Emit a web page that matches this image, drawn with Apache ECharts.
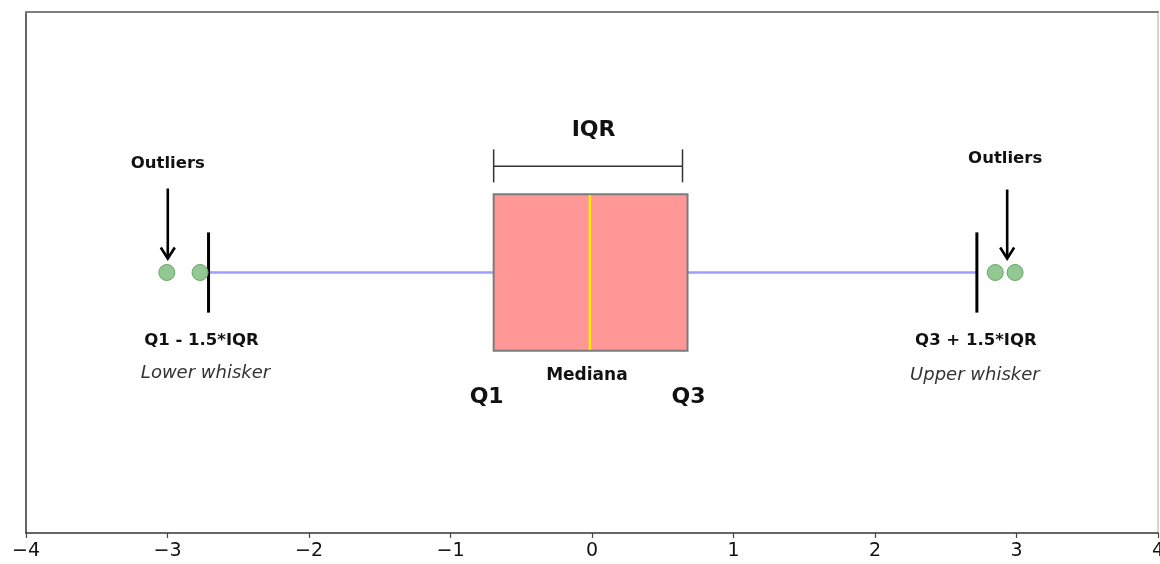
<!DOCTYPE html>
<html>
<head>
<meta charset="utf-8">
<script src="https://cdn.jsdelivr.net/npm/echarts@6/dist/echarts.min.js"></script>
<style>
html,body{margin:0;padding:0;background:#fff;}
#chart{width:1160px;height:564px;}
</style>
</head>
<body>
<div id="chart"></div>
<script>
// ---- data ----
const tickValues = [-4, -3, -2, -1, 0, 1, 2, 3, 4];
// lower whisker, Q1, median, Q3, upper whisker
const boxStats = [-2.71, -0.695, -0.015, 0.675, 2.72];
const outlierValues = [-3.005, -2.77, 2.85, 2.99];
const boxPosition = 0.5;
const labelTexts = {
  outliers: 'Outliers',
  iqr: 'IQR',
  q1: 'Q1',
  q3: 'Q3',
  median: 'Mediana',
  lowerFormula: 'Q1 - 1.5*IQR',
  upperFormula: 'Q3 + 1.5*IQR',
  lowerName: 'Lower whisker',
  upperName: 'Upper whisker'
};

// ---- chart ----
const chart = echarts.init(document.getElementById('chart'), null, {renderer: 'canvas'});
const FONT = '"DejaVu Sans", sans-serif';

function txt(x, y, text, size, opts) {
  opts = opts || {};
  return {
    type: 'text', x: x, y: y, z2: 20,
    style: {
      text: text, fill: opts.fill || '#111',
      fontFamily: FONT, fontSize: size,
      fontWeight: opts.weight || 'bold',
      fontStyle: opts.style || 'normal',
      align: 'center', verticalAlign: 'middle'
    }
  };
}
function arrow(x, y1, y2) {
  return [
    {type: 'line', shape: {x1: x, y1: y1, x2: x, y2: y2 - 1}, style: {stroke: '#000', lineWidth: 2.6}, z2: 20},
    {type: 'polyline', shape: {points: [[x - 7, y2 - 11], [x, y2], [x + 7, y2 - 11]]},
     style: {stroke: '#000', lineWidth: 2.6, fill: null}, z2: 20}
  ];
}

function renderBox(params, api) {
  const yc = api.value(5);
  const pLW = api.coord([api.value(0), yc]);
  const pQ1 = api.coord([api.value(1), yc]);
  const pMed = api.coord([api.value(2), yc]);
  const pQ3 = api.coord([api.value(3), yc]);
  const pUW = api.coord([api.value(4), yc]);
  const cy = pQ1[1];
  const h = api.size([0, 0.15])[1];
  const capH = api.size([0, 0.077])[1];
  const oL = api.coord([outlierValues[0], yc])[0];
  const oR = (api.coord([outlierValues[2], yc])[0] + api.coord([outlierValues[3], yc])[0]) / 2;
  const children = [
    {type: 'line', shape: {x1: pLW[0], y1: cy, x2: pQ1[0], y2: cy}, style: {stroke: '#9e9eff', lineWidth: 2.5}},
    {type: 'line', shape: {x1: pQ3[0], y1: cy, x2: pUW[0], y2: cy}, style: {stroke: '#9e9eff', lineWidth: 2.5}},
    {type: 'rect', shape: {x: pQ1[0], y: cy - h, width: pQ3[0] - pQ1[0], height: 2 * h},
     style: {fill: '#ff9797', stroke: '#7c7c7c', lineWidth: 2}},
    {type: 'line', shape: {x1: pMed[0], y1: cy - h + 1, x2: pMed[0], y2: cy + h - 1}, style: {stroke: '#ffee00', lineWidth: 2.5}},
    {type: 'line', shape: {x1: pLW[0], y1: cy - capH, x2: pLW[0], y2: cy + capH}, style: {stroke: '#000', lineWidth: 3}, z2: 15},
    {type: 'line', shape: {x1: pUW[0], y1: cy - capH, x2: pUW[0], y2: cy + capH}, style: {stroke: '#000', lineWidth: 3}, z2: 15},
    // IQR bracket
    {type: 'line', shape: {x1: pQ1[0], y1: cy - h - 28, x2: pQ3[0] - 5, y2: cy - h - 28}, style: {stroke: '#333', lineWidth: 1.5}},
    {type: 'line', shape: {x1: pQ1[0], y1: cy - h - 45, x2: pQ1[0], y2: cy - h - 12}, style: {stroke: '#333', lineWidth: 1.5}},
    {type: 'line', shape: {x1: pQ3[0] - 5, y1: cy - h - 45, x2: pQ3[0] - 5, y2: cy - h - 12}, style: {stroke: '#333', lineWidth: 1.5}},
    txt((pQ1[0] + pQ3[0]) / 2 + 3, cy - 142, labelTexts.iqr, 22),
    txt(pQ1[0] - 7, cy + 125, labelTexts.q1, 22),
    txt(pQ3[0] + 1, cy + 125, labelTexts.q3, 22),
    txt(pMed[0] - 3, cy + 103, labelTexts.median, 17),
    txt(pLW[0] - 7, cy + 68, labelTexts.lowerFormula, 16.5),
    txt(pLW[0] - 3, cy + 101, labelTexts.lowerName, 18, {weight: 'normal', style: 'italic', fill: '#333'}),
    txt(pUW[0] - 1, cy + 68, labelTexts.upperFormula, 16.5),
    txt(pUW[0] - 2, cy + 103, labelTexts.upperName, 18, {weight: 'normal', style: 'italic', fill: '#333'}),
    txt(oL + 1, cy - 109, labelTexts.outliers, 16.5),
    txt(oR, cy - 114, labelTexts.outliers, 16.5)
  ].concat(arrow(oL + 1, cy - 84, cy - 14), arrow(oR + 2, cy - 83, cy - 14));
  return {type: 'group', children: children};
}

const option = {
  animation: false,
  backgroundColor: '#fff',
  grid: {left: 26, right: 2, top: 12, bottom: 31, containLabel: false, outerBoundsMode: 'none'},
  xAxis: [{
    type: 'value', min: tickValues[0], max: tickValues[tickValues.length - 1], interval: 1,
    position: 'bottom',
    axisLine: {show: true, onZero: false, lineStyle: {color: '#333', width: 1.5}},
    axisTick: {show: true, inside: false, length: 5, lineStyle: {color: '#444', width: 1.2}},
    splitLine: {show: false},
    axisLabel: {
      fontFamily: FONT, fontSize: 19, color: '#111', margin: 9,
      formatter: function (v) { return v < 0 ? '\u2212' + Math.abs(v) : String(v); }
    }
  }, {
    type: 'value', min: tickValues[0], max: tickValues[tickValues.length - 1], position: 'top',
    axisLine: {show: true, onZero: false, lineStyle: {color: '#7f7f7f', width: 2}},
    axisTick: {show: false}, axisLabel: {show: false}, splitLine: {show: false}
  }],
  yAxis: [{
    type: 'value', min: 0, max: 1, position: 'left',
    axisLine: {show: true, onZero: false, lineStyle: {color: '#333', width: 1.5}},
    axisTick: {show: false}, axisLabel: {show: false}, splitLine: {show: false}
  }, {
    type: 'value', min: 0, max: 1, position: 'right',
    axisLine: {show: true, onZero: false, lineStyle: {color: '#d4d4d4', width: 2}},
    axisTick: {show: false}, axisLabel: {show: false}, splitLine: {show: false}
  }],
  series: [{
    type: 'custom', clip: false, z: 2,
    renderItem: renderBox,
    encode: {x: [0, 1, 2, 3, 4], y: 5},
    data: [[...boxStats, boxPosition]]
  }, {
    type: 'scatter', z: 3,
    symbolSize: 16,
    itemStyle: {color: '#92c892', borderColor: '#6aa36a', borderWidth: 1, opacity: 1},
    data: outlierValues.map(v => [v, boxPosition])
  }]
};
chart.setOption(option);
</script>
</body>
</html>
